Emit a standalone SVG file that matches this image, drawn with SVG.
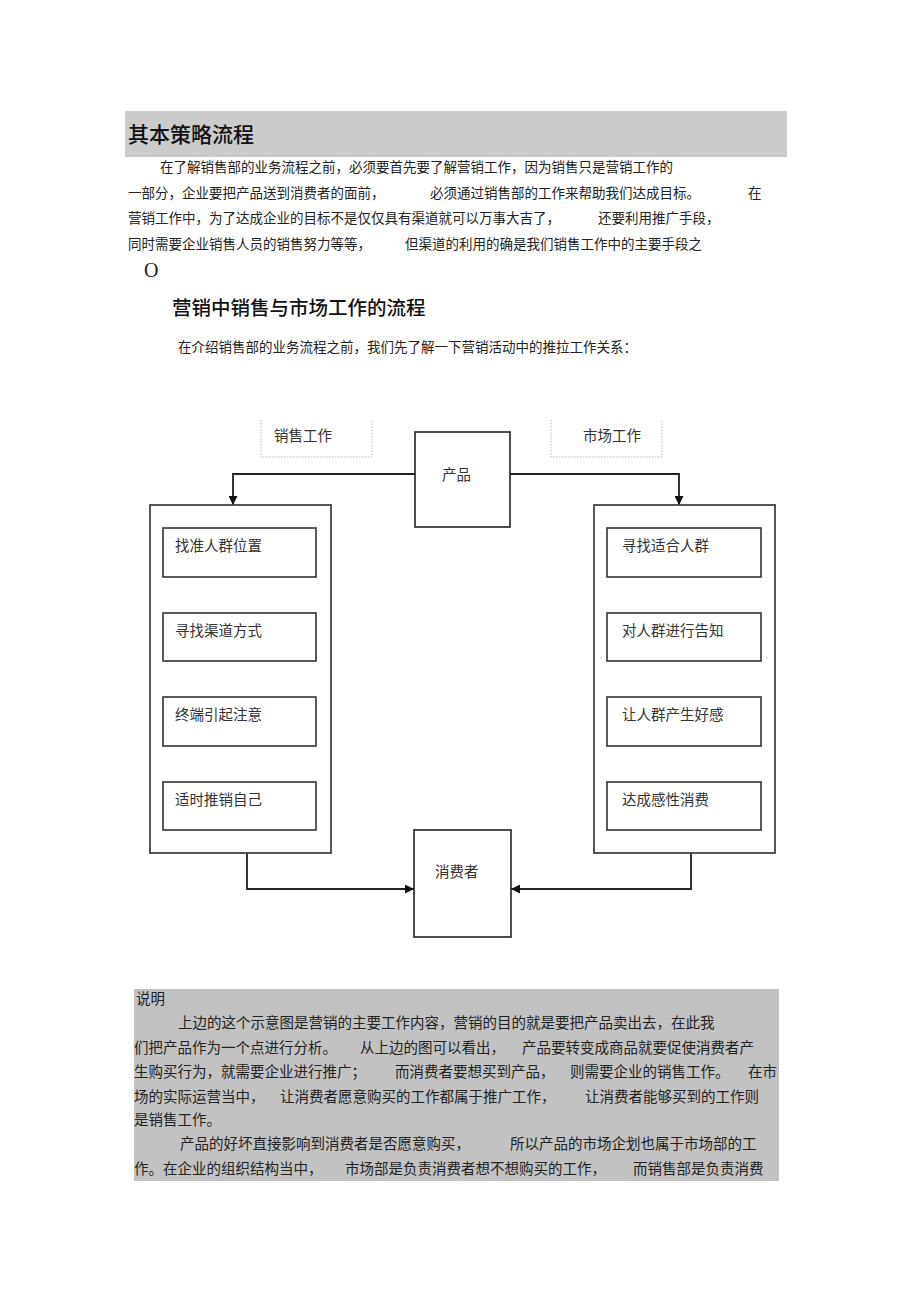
<svg xmlns="http://www.w3.org/2000/svg" width="920" height="1303" viewBox="0 0 920 1303">
<defs>
<style>
.t{font-family:"Liberation Serif","Noto Sans CJK SC",serif;fill:#222;font-size:13.5px}
.e{font-family:"Liberation Serif","Noto Sans CJK SC",serif;fill:#222;font-size:14.5px}
.n{font-family:"Liberation Serif","Noto Sans CJK SC",serif;fill:#333;font-size:14.5px}
.h{font-family:"Noto Sans CJK SC",sans-serif;fill:#111;font-weight:500}
.box{fill:#fff;stroke:#222;stroke-width:1.6}
.outer{fill:#fff;stroke:#444;stroke-width:1.8}
.inner{fill:#fff;stroke:#333;stroke-width:1.6}
.lab{fill:none;stroke:#bbb;stroke-width:1;stroke-dasharray:1.5 1.5}
.c{fill:none;stroke:#222;stroke-width:1.8}
</style>
<marker id="ah" viewBox="0 0 10 10" refX="10" refY="5" markerWidth="9" markerHeight="9" markerUnits="userSpaceOnUse" orient="auto">
<path d="M0,0 L10,5 L0,10 z" fill="#111"/>
</marker>
</defs>
<rect width="920" height="1303" fill="#fff"/>

<g id="header">
<rect x="125" y="111" width="662" height="46" fill="#cbcbcb"/>
<text class="h" x="128" y="142" font-size="21">其本策略流程</text>
</g>

<g id="intro">
<text class="t" x="160" y="172">在了解销售部的业务流程之前，必须要首先要了解营销工作，因为销售只是营销工作的</text>
<text class="t" x="128" y="198">一部分，企业要把产品送到消费者的面前，</text>
<text class="t" x="430" y="198">必须通过销售部的工作来帮助我们达成目标。</text>
<text class="t" x="748" y="198">在</text>
<text class="t" x="128" y="223">营销工作中，为了达成企业的目标不是仅仅具有渠道就可以万事大吉了，</text>
<text class="t" x="598" y="223">还要利用推广手段，</text>
<text class="t" x="128" y="249">同时需要企业销售人员的销售努力等等，</text>
<text class="t" x="405" y="249">但渠道的利用的确是我们销售工作中的主要手段之</text>
<text x="144" y="277" font-family="Liberation Serif, serif" font-size="20" fill="#222">O</text>
</g>

<g id="subtitle">
<text class="h" x="172" y="315" font-size="19.5">营销中销售与市场工作的流程</text>
<text class="t" x="178" y="352" font-size="13">在介绍销售部的业务流程之前，我们先了解一下营销活动中的推拉工作关系：</text>
</g>

<g id="connectors">
<polyline class="c" points="415,474 233,474 233,505" marker-end="url(#ah)"/>
<polyline class="c" points="510,474 679,474 679,505" marker-end="url(#ah)"/>
<line class="c" x1="233" y1="577" x2="233" y2="613" marker-end="url(#ah)"/>
<line class="c" x1="233" y1="661" x2="233" y2="697" marker-end="url(#ah)"/>
<line class="c" x1="233" y1="746" x2="233" y2="782" marker-end="url(#ah)"/>
<line class="c" x1="677" y1="577" x2="677" y2="613" marker-end="url(#ah)"/>
<line class="c" x1="677" y1="661" x2="677" y2="697" marker-end="url(#ah)"/>
<line class="c" x1="677" y1="746" x2="677" y2="782" marker-end="url(#ah)"/>
<polyline class="c" points="247,853 247,889 414,889" marker-end="url(#ah)"/>
<polyline class="c" points="691,853 691,889 511,889" marker-end="url(#ah)"/>
</g>

<g id="label-sales">
<path class="lab" d="M261,420 V457 H372 V420"/>
<text class="n" x="274" y="441">销售工作</text>
</g>
<g id="label-market">
<path class="lab" d="M551,420 V457 H662 V420"/>
<text class="n" x="583" y="441">市场工作</text>
</g>

<g id="product">
<rect class="box" x="415" y="432" width="95" height="95"/>
<text class="n" x="442" y="480">产品</text>
</g>

<g id="sales-group">
<rect class="outer" x="150" y="505" width="181" height="348"/>
</g>
<g id="s1"><rect class="inner" x="163" y="528" width="153" height="49"/><text class="n" x="175" y="551">找准人群位置</text></g>
<g id="s2"><rect class="inner" x="163" y="613" width="153" height="48"/><text class="n" x="175" y="636">寻找渠道方式</text></g>
<g id="s3"><rect class="inner" x="163" y="697" width="153" height="49"/><text class="n" x="175" y="720">终端引起注意</text></g>
<g id="s4"><rect class="inner" x="163" y="782" width="153" height="48"/><text class="n" x="175" y="805">适时推销自己</text></g>

<g id="market-group">
<rect class="outer" x="594" y="505" width="181" height="348"/>
</g>
<g id="m1"><rect class="inner" x="607" y="528" width="154" height="49"/><text class="n" x="622" y="551">寻找适合人群</text></g>
<g id="m2"><rect class="inner" x="607" y="613" width="154" height="48"/><text class="n" x="622" y="636">对人群进行告知</text></g>
<g id="m3"><rect class="inner" x="607" y="697" width="154" height="49"/><text class="n" x="622" y="720">让人群产生好感</text></g>
<g id="m4"><rect class="inner" x="607" y="782" width="154" height="48"/><text class="n" x="622" y="805">达成感性消费</text></g>

<g id="consumer">
<rect class="box" x="414" y="830" width="97" height="107"/>
<text class="n" x="435" y="877">消费者</text>
</g>

<g id="explanation">
<rect x="134" y="989" width="645" height="192" fill="#c2c2c2"/>
<text class="e" x="136" y="1004">说明</text>
<text class="e" x="178" y="1028">上边的这个示意图是营销的主要工作内容，营销的目的就是要把产品卖出去，在此我</text>
<text class="e" x="134" y="1053">们把产品作为一个点进行分析。</text>
<text class="e" x="360" y="1053">从上边的图可以看出，</text>
<text class="e" x="522" y="1053">产品要转变成商品就要促使消费者产</text>
<text class="e" x="134" y="1077">生购买行为，就需要企业进行推广；</text>
<text class="e" x="395" y="1077">而消费者要想买到产品，</text>
<text class="e" x="570" y="1077">则需要企业的销售工作。</text>
<text class="e" x="748" y="1077">在市</text>
<text class="e" x="134" y="1102">场的实际运营当中，</text>
<text class="e" x="280" y="1102">让消费者愿意购买的工作都属于推广工作，</text>
<text class="e" x="585" y="1102">让消费者能够买到的工作则</text>
<text class="e" x="134" y="1125">是销售工作。</text>
<text class="e" x="180" y="1149">产品的好坏直接影响到消费者是否愿意购买，</text>
<text class="e" x="510" y="1149">所以产品的市场企划也属于市场部的工</text>
<text class="e" x="134" y="1174">作。在企业的组织结构当中，</text>
<text class="e" x="345" y="1174">市场部是负责消费者想不想购买的工作，</text>
<text class="e" x="633" y="1174">而销售部是负责消费</text>
</g>
</svg>
